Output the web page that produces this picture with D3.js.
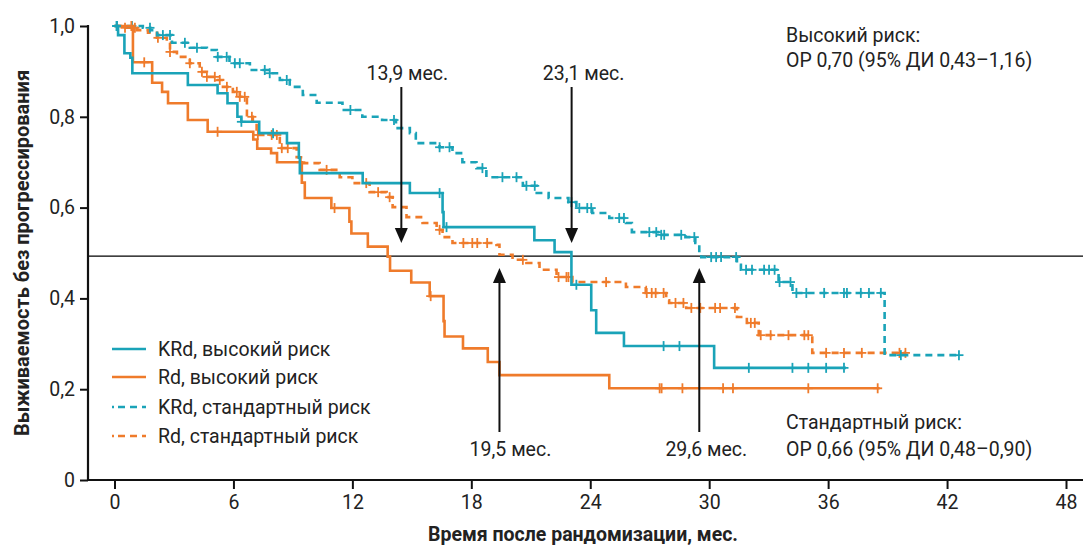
<!DOCTYPE html>
<html><head><meta charset="utf-8">
<script src="https://cdn.jsdelivr.net/npm/d3@7"></script>
<style>body{margin:0;background:#fff}svg{display:block}text{font-family:Roboto,"Noto Sans",sans-serif}</style>
</head><body><svg id="c" width="1083" height="547"></svg>
<script>
// ---- data ----
const xTicks = [0, 6, 12, 18, 24, 30, 36, 42, 48];
const yTicks = [0, 0.2, 0.4, 0.6, 0.8, 1.0];
const yTickLabels = ["0", "0,2", "0,4", "0,6", "0,8", "1,0"];
const seriesNames = ["KRd, высокий риск", "Rd, высокий риск", "KRd, стандартный риск", "Rd, стандартный риск"];

// step points [month, survival]; last entry is end of follow-up
const krdHigh = [[0,1],[0.18,0.98],[0.5,0.94],[0.8,0.93],[0.9,0.896],[3.7,0.87],[5.2,0.852],[5.7,0.83],[6.2,0.80],[6.4,0.789],
  [7.3,0.764],[8.7,0.742],[9.3,0.71],[9.35,0.676],[12.52,0.654],[14.9,0.632],[16.55,0.59],[16.6,0.557],[21.18,0.528],[22.2,0.502],
  [23.05,0.43],[24.05,0.374],[24.3,0.324],[25.7,0.295],[30.25,0.247],[36.9,0.247]];
const krdHighCens = [0.1,6.4,8.0,16.4,16.75,23.3,27.7,28.5,32.0,34.2,35.0,35.9,36.8];

const rdHigh = [[0,1],[0.93,0.92],[1.9,0.875],[2.4,0.855],[2.7,0.83],[3.7,0.793],[4.7,0.767],[7.0,0.75],[7.2,0.73],[7.9,0.72],
  [8.2,0.70],[9.45,0.655],[9.6,0.621],[10.94,0.599],[11.85,0.569],[11.95,0.543],[12.78,0.514],[13.78,0.492],[13.9,0.461],
  [14.97,0.435],[15.9,0.405],[16.6,0.35],[16.65,0.316],[17.58,0.29],[18.83,0.26],[19.42,0.231],[24.96,0.202],[38.6,0.202]];
const rdHighCens = [0.85,1.5,5.2,9.4,11.1,15.95,27.5,27.6,28.65,30.7,31.2,35.0,38.5];

const krdStd = [[0,1],[1.43,0.996],[1.8,0.991],[2.15,0.98],[2.9,0.963],[3.8,0.952],[4.66,0.947],[5.16,0.932],[5.8,0.918],
  [6.83,0.903],[7.83,0.896],[8.34,0.881],[8.84,0.866],[9.5,0.848],[10.2,0.831],[11.5,0.815],[12.5,0.80],[13.5,0.793],
  [14.2,0.775],[14.9,0.764],[15.2,0.742],[16.4,0.733],[17.05,0.72],[17.55,0.70],[18.26,0.687],[18.76,0.667],[20.4,0.667],
  [20.6,0.648],[21.3,0.632],[21.9,0.621],[22.9,0.612],[23.3,0.599],[24.1,0.588],[24.96,0.577],[25.8,0.566],[26.1,0.546],
  [27.5,0.54],[28.8,0.535],[29.3,0.522],[29.5,0.50],[29.6,0.491],[31.2,0.491],[31.4,0.474],[31.6,0.463],[33.4,0.463],
  [33.5,0.436],[34.2,0.412],[38.8,0.412],[38.85,0.275],[42.6,0.275]];
const krdStdCens = [0.13,0.88,1.79,2.44,2.8,3.55,4.16,5.21,5.66,6.07,6.32,7.58,7.83,8.69,11.9,14.1,16.4,16.9,18.56,19.57,20.28,
  20.78,21.2,23.05,23.45,23.85,24.05,25.46,25.7,26.98,27.33,27.58,27.73,28.59,29.25,30.1,30.35,30.6,31.36,31.86,32.16,32.77,
  33.02,33.3,33.55,34.1,34.4,34.9,35.8,36.8,36.95,37.65,38.06,38.66,39.67,42.6];

const rdStd = [[0,1],[0.4,0.996],[1.13,0.991],[1.69,0.985],[2.14,0.974],[2.64,0.963],[2.8,0.943],[3.15,0.932],[3.8,0.918],
  [4.3,0.899],[4.66,0.888],[5.16,0.881],[5.47,0.866],[5.97,0.855],[6.32,0.844],[6.68,0.80],[6.98,0.789],[7.17,0.76],
  [8.34,0.731],[9.19,0.711],[9.5,0.698],[10.35,0.683],[11.36,0.667],[12.0,0.654],[12.87,0.634],[13.73,0.623],[14.03,0.601],
  [14.73,0.579],[15.54,0.566],[16.25,0.551],[16.55,0.535],[17.05,0.522],[19.27,0.518],[19.42,0.496],[20.08,0.485],
  [20.78,0.478],[21.44,0.463],[22.3,0.447],[23.1,0.436],[25.8,0.425],[26.8,0.412],[27.83,0.396],[27.98,0.39],[28.84,0.379],
  [31.4,0.359],[31.9,0.346],[32.5,0.319],[35.2,0.28],[39.9,0.28]];
const rdStdCens = [0.53,1.03,2.19,2.8,3.8,4.41,4.66,5.06,5.31,5.67,6.17,6.32,6.57,6.93,7.23,7.93,8.19,8.44,8.74,10.7,12.7,13.3,
  13.88,16.4,17.6,18.05,18.3,18.8,20.6,22.4,22.8,22.9,24.8,26.85,27.1,27.3,27.7,28.3,28.7,29.1,29.55,30.3,30.55,31.3,32.1,
  32.3,32.6,33.1,34.0,34.8,35.0,35.9,36.8,37.7,39.6,39.9];

// median annotations
const medianLevel = 0.493;
const medianLabels = ["13,9 мес.", "23,1 мес.", "19,5 мес.", "29,6 мес."];
const medianArrowMonths = [14.47, 23.06, 19.42, 29.5];
const riskTexts = ["Высокий риск:", "ОР 0,70 (95% ДИ 0,43–1,16)", "Стандартный риск:", "ОР 0,66 (95% ДИ 0,48–0,90)"];

// ---- drawing ----
const TEAL = "#1aa3b8", ORANGE = "#ef7b2b";
const FS = 19.5;
const svg = d3.select("#c");
const x = d3.scaleLinear().domain([0, 48]).range([114.5, 1066]);
const y = d3.scaleLinear().domain([0, 1]).range([480, 26]);

// reference horizontal line
svg.append("line").attr("x1", 88).attr("x2", 1083).attr("y1", y(medianLevel)).attr("y2", y(medianLevel))
  .attr("stroke", "#000").attr("stroke-width", 1.2);

// axes
const yAxis = svg.append("g").attr("transform", "translate(88,0)")
  .call(d3.axisLeft(y).tickValues(yTicks).tickFormat((d, i) => yTickLabels[i]).tickSize(8).tickPadding(5));
const xAxis = svg.append("g").attr("transform", "translate(0,480)")
  .call(d3.axisBottom(x).tickValues(xTicks).tickSize(9).tickPadding(6));
[yAxis, xAxis].forEach(g => {
  g.select(".domain").remove();
  g.selectAll("line").attr("stroke", "#111").attr("stroke-width", 2);
  g.selectAll("text").attr("font-size", FS).attr("fill", "#222");
});
svg.append("line").attr("x1", 88).attr("x2", 88).attr("y1", y(1) - 1).attr("y2", 481).attr("stroke", "#111").attr("stroke-width", 2.2);
svg.append("line").attr("x1", 87).attr("x2", 1083).attr("y1", 480).attr("y2", 480).attr("stroke", "#111").attr("stroke-width", 2.2);

function stepAt(data, t) {
  let s = data[0][1];
  for (const p of data) { if (p[0] <= t) s = p[1]; }
  return s;
}
const line = d3.line().x(d => x(d[0])).y(d => y(d[1])).curve(d3.curveStepAfter);
const series = [
  {data: rdStd, cens: rdStdCens, color: ORANGE, dash: "7,5"},
  {data: krdStd, cens: krdStdCens, color: TEAL, dash: "7,5"},
  {data: rdHigh, cens: rdHighCens, color: ORANGE, dash: null},
  {data: krdHigh, cens: krdHighCens, color: TEAL, dash: null}
];
series.forEach(s => {
  svg.append("path").attr("d", line(s.data)).attr("fill", "none").attr("stroke", s.color)
    .attr("stroke-width", 2.6).attr("stroke-dasharray", s.dash);
  const g = svg.append("g").attr("stroke", s.color).attr("stroke-width", 1.8);
  s.cens.forEach(t => {
    const cx = x(t), cy = y(stepAt(s.data, t));
    g.append("line").attr("x1", cx - 4.5).attr("x2", cx + 4.5).attr("y1", cy).attr("y2", cy);
    g.append("line").attr("x1", cx).attr("x2", cx).attr("y1", cy - 5).attr("y2", cy + 5);
  });
});

// arrows
function arrow(mx, yFrom, yTip) {
  const px = x(mx), dir = yTip > yFrom ? 1 : -1;
  svg.append("line").attr("x1", px).attr("x2", px).attr("y1", yFrom).attr("y2", yTip - dir * 12)
    .attr("stroke", "#111").attr("stroke-width", 2);
  svg.append("path").attr("d", `M${px - 6.5},${yTip - dir * 15} L${px + 6.5},${yTip - dir * 15} L${px},${yTip} Z`).attr("fill", "#111");
}
arrow(medianArrowMonths[0], 87, 243);
arrow(medianArrowMonths[1], 87, 243);
arrow(medianArrowMonths[2], 432, 268);
arrow(medianArrowMonths[3], 432, 268);
const lab = (t, xx, yy) => svg.append("text").attr("x", xx).attr("y", yy).attr("text-anchor", "middle")
  .attr("font-size", FS).attr("fill", "#222").text(t);
lab(medianLabels[0], x(medianArrowMonths[0]) + 6, 80);
lab(medianLabels[1], x(medianArrowMonths[1]) + 12, 80);
lab(medianLabels[2], x(medianArrowMonths[2]) + 11, 456);
lab(medianLabels[3], x(medianArrowMonths[3]) + 7, 456);

// risk texts
[[42], [67], [429], [456]].forEach((p, i) => {
  svg.append("text").attr("x", 786).attr("y", p[0]).attr("font-size", FS).attr("fill", "#222").text(riskTexts[i]);
});

// legend
const legStyles = [{c: TEAL, d: null}, {c: ORANGE, d: null}, {c: TEAL, d: "2,4,7,5,7,5,7"}, {c: ORANGE, d: "2,4,7,5,7,5,7"}];
const legY = [349, 377, 407, 436];
seriesNames.forEach((n, i) => {
  svg.append("line").attr("x1", 112).attr("x2", 146).attr("y1", legY[i]).attr("y2", legY[i])
    .attr("stroke", legStyles[i].c).attr("stroke-width", 2.6).attr("stroke-dasharray", legStyles[i].d);
  svg.append("text").attr("x", 158).attr("y", legY[i] + 7).attr("font-size", FS).attr("fill", "#222").text(n);
});

// axis titles
svg.append("text").attr("x", 583).attr("y", 541).attr("text-anchor", "middle").attr("font-size", 19.5)
  .attr("font-weight", "bold").attr("fill", "#222").text("Время после рандомизации, мес.");
svg.append("text").attr("transform", "translate(29,253) rotate(-90)").attr("text-anchor", "middle").attr("font-size", 20)
  .attr("font-weight", "bold").attr("fill", "#222").text("Выживаемость без прогрессирования");
</script></body></html>
